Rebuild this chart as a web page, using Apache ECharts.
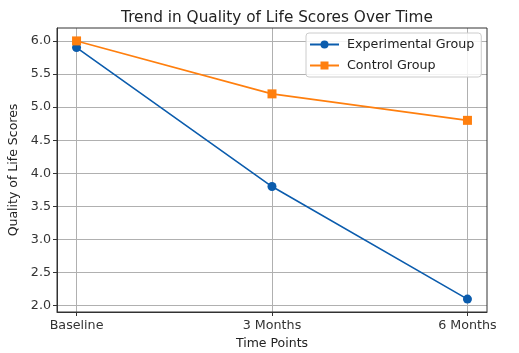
<!DOCTYPE html>
<html><head><meta charset="utf-8">
<script src="https://cdn.jsdelivr.net/npm/echarts@6/dist/echarts.min.js"></script>
<style>html,body{margin:0;padding:0;background:#fff}#c{width:519px;height:353px}</style>
</head><body><div id="c"></div>
<script>
const categories = ['Baseline', '3 Months', '6 Months'];
const experimental = [5.9, 3.8, 2.1];
const control = [6.0, 5.2, 4.8];
const yTicks = [2.0, 2.5, 3.0, 3.5, 4.0, 4.5, 5.0, 5.5, 6.0];

const font = 'DejaVu Sans';
const chart = echarts.init(document.getElementById('c'), null, {renderer: 'canvas'});
const toPairs = arr => arr.map((v, i) => [i, v]);
chart.setOption({
  animation: false,
  backgroundColor: '#fff',
  title: {
    text: 'Trend in Quality of Life Scores Over Time',
    left: 272, top: 6, textAlign: 'center',
    textStyle: {fontFamily: font, fontSize: 15.3, fontWeight: 'normal', color: '#222'}
  },
  legend: {
    orient: 'vertical', left: 306, top: 33,
    itemWidth: 29, itemHeight: 10, itemGap: 8,
    padding: [5, 7, 5, 3],
    borderColor: '#cccccc', borderWidth: 1, borderRadius: 3,
    backgroundColor: 'rgba(255,255,255,0.85)',
    textStyle: {fontFamily: font, fontSize: 12.7, color: '#222', padding: [0, 0, 0, 3]},
    data: ['Experimental Group', 'Control Group']
  },
  grid: {left: 57, right: 32, top: 28, bottom: 41, containLabel: false, outerBoundsMode: 'none'},
  xAxis: {
    type: 'value', min: -0.1, max: 2.1,
    name: 'Time Points', nameLocation: 'middle', nameGap: 25,
    nameTextStyle: {fontFamily: font, fontSize: 12.5, color: '#222'},
    axisLine: {show: true, onZero: false, lineStyle: {color: '#333', width: 1}},
    axisTick: {show: true, length: 4, customValues: [0, 1, 2], lineStyle: {color: '#333'}},
    axisLabel: {customValues: [0, 1, 2], formatter: v => categories[Math.round(v)] || '',
      fontFamily: font, fontSize: 12.7, color: '#333', margin: 7},
    splitLine: {show: true, lineStyle: {color: '#b0b0b0', width: 1}}
  },
  yAxis: {
    type: 'value', min: 1.905, max: 6.195,
    name: 'Quality of Life Scores', nameLocation: 'middle', nameGap: 37,
    nameTextStyle: {fontFamily: font, fontSize: 12.5, color: '#222'},
    axisLine: {show: true, onZero: false, lineStyle: {color: '#333', width: 1}},
    axisTick: {show: true, length: 4, customValues: yTicks, lineStyle: {color: '#333'}},
    axisLabel: {customValues: yTicks, formatter: v => v.toFixed(1),
      fontFamily: font, fontSize: 12.7, color: '#333', margin: 6},
    splitLine: {show: true, lineStyle: {color: '#b0b0b0', width: 1}}
  },
  series: [
    {
      name: 'Experimental Group', type: 'line', data: toPairs(experimental),
      symbol: 'circle', symbolSize: 9,
      itemStyle: {color: '#0b5cad'}, lineStyle: {color: '#0b5cad', width: 1.6}, z: 3
    },
    {
      name: 'Control Group', type: 'line', data: toPairs(control),
      symbol: 'rect', symbolSize: 9,
      itemStyle: {color: '#ff7f0e'}, lineStyle: {color: '#ff7f0e', width: 1.6}, z: 4
    }
  ]
});
chart.setOption({graphic: [{type: 'rect', shape: {x: 57, y: 28, width: 430, height: 284},
  style: {fill: 'none', stroke: '#333', lineWidth: 1}, z: 1, silent: true}]});
</script></body></html>
